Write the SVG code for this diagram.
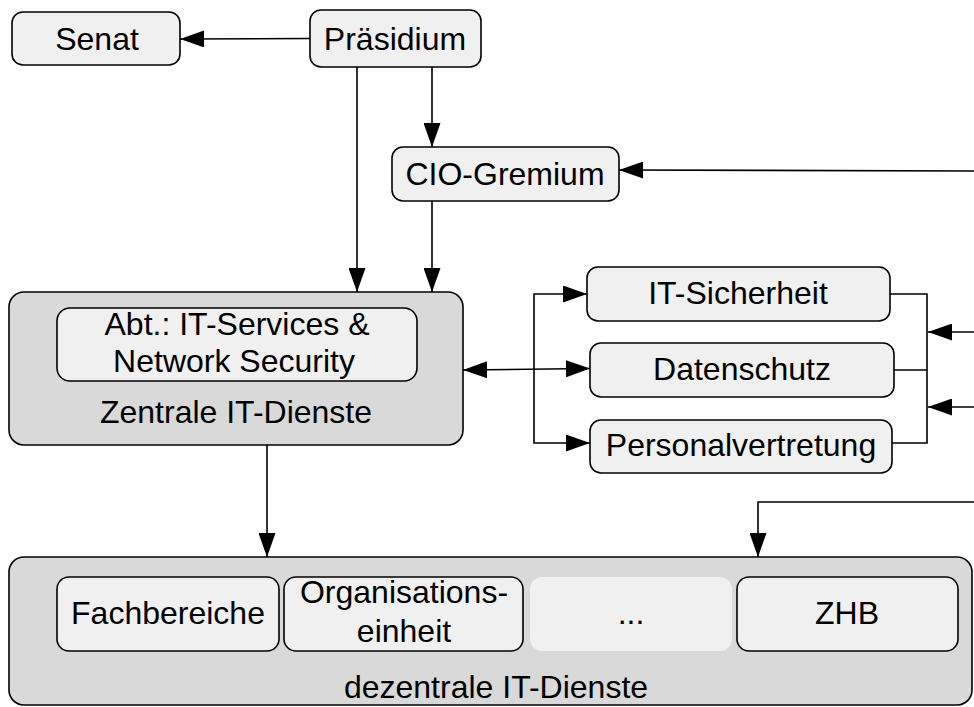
<svg xmlns="http://www.w3.org/2000/svg" width="974" height="707" viewBox="0 0 974 707">
<defs>
<style>
text{font-family:"Liberation Sans",Arial,sans-serif;font-size:32px;fill:#000;text-anchor:middle}
.n{fill:#f0f0f0;stroke:#000;stroke-width:1.6}
.big{fill:#d9d9d9;stroke:#000;stroke-width:1.6}
.c{fill:none;stroke:#000;stroke-width:1.6}
</style>
<marker id="ah" markerUnits="userSpaceOnUse" markerWidth="24" markerHeight="17" refX="24" refY="8.5" orient="auto-start-reverse" viewBox="0 0 24 17">
<path d="M0,0 L24,8.5 L0,17 z" fill="#000"/>
</marker>
</defs>
<rect width="974" height="707" fill="#fff"/>
<g id="zentrale">
<rect class="big" x="9" y="292" width="454" height="153" rx="15"/>
<text x="236" y="423">Zentrale IT-Dienste</text>
</g>
<g id="abt">
<rect class="n" x="57" y="308" width="360" height="73" rx="13"/>
<text x="237" y="335">Abt.: IT-Services &amp;</text>
<text x="234" y="372">Network Security</text>
</g>
<g id="dezentrale">
<rect class="big" x="9" y="557" width="963" height="148" rx="15"/>
<text x="496" y="698">dezentrale IT-Dienste</text>
</g>
<g id="senat">
<rect class="n" x="12" y="12" width="168" height="53" rx="11"/>
<text x="97" y="50">Senat</text>
</g>
<g id="praesidium">
<rect class="n" x="310" y="10" width="171" height="57" rx="11"/>
<text x="395" y="50">Präsidium</text>
</g>
<g id="cio">
<rect class="n" x="392" y="147" width="227" height="54" rx="11"/>
<text x="505" y="185">CIO-Gremium</text>
</g>
<g id="itsicherheit">
<rect class="n" x="587" y="267" width="303" height="54" rx="11"/>
<text x="738" y="304">IT-Sicherheit</text>
</g>
<g id="datenschutz">
<rect class="n" x="590" y="343" width="304" height="54" rx="11"/>
<text x="742" y="380">Datenschutz</text>
</g>
<g id="personalvertretung">
<rect class="n" x="590" y="420" width="302" height="53" rx="11"/>
<text x="741" y="456">Personalvertretung</text>
</g>
<g id="fachbereiche">
<rect class="n" x="57" y="577" width="222" height="74" rx="12"/>
<text x="168" y="624">Fachbereiche</text>
</g>
<g id="organisationseinheit">
<rect class="n" x="284" y="577" width="239" height="74" rx="12"/>
<text x="404" y="603">Organisations-</text>
<text x="404" y="642">einheit</text>
</g>
<g id="dots">
<rect x="530" y="577" width="202" height="74" rx="12" fill="#f0f0f0"/>
<text x="631" y="624">...</text>
</g>
<g id="zhb">
<rect class="n" x="737" y="577" width="221" height="74" rx="12"/>
<text x="847" y="624">ZHB</text>
</g>
<g id="connectors">
<path class="c" d="M310,38.5 L180,39" marker-end="url(#ah)"/>
<path class="c" d="M357,67 L357,292" marker-end="url(#ah)"/>
<path class="c" d="M432,67 L432,147" marker-end="url(#ah)"/>
<path class="c" d="M432,201 L432,292" marker-end="url(#ah)"/>
<path class="c" d="M974,171 L619,170" marker-end="url(#ah)"/>
<path class="c" d="M463,370 L590,368.5" marker-start="url(#ah)" marker-end="url(#ah)"/>
<path class="c" d="M534,369 L534,294 L587,294" marker-end="url(#ah)"/>
<path class="c" d="M534,369 L534,443 L590,443" marker-end="url(#ah)"/>
<path class="c" d="M890,294 L927,294 L927,443 L892,443"/>
<path class="c" d="M894,370 L927,370"/>
<path class="c" d="M974,332 L928,332" marker-end="url(#ah)"/>
<path class="c" d="M974,407 L928,407" marker-end="url(#ah)"/>
<path class="c" d="M267,445 L267,557" marker-end="url(#ah)"/>
<path class="c" d="M974,502 L758,502 L758,557" marker-end="url(#ah)"/>
</g>
</svg>
